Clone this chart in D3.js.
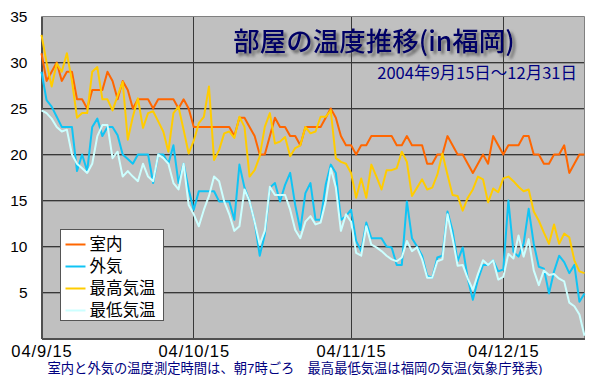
<!DOCTYPE html>
<html>
<head>
<meta charset="utf-8">
<script src="https://cdn.jsdelivr.net/npm/d3@7"></script>
<style>
  body { margin: 0; background: #fff; }
  svg { display: block; }
  text { font-family: "Liberation Sans", Arial, sans-serif; }
  .jp { font-family: "Noto Sans CJK JP", sans-serif; }
  .note { font-family: "Liberation Sans", "Noto Sans CJK JP", sans-serif; }
</style>
</head>
<body>
<svg></svg>
<script>
(function (d3) {
  'use strict';

  // 2004/9/15 - 12/31, one value per day
  const startDay = new Date(2004, 8, 15);

  const indoor = [
    31, 28, 29, 30, 28, 29, 29, 26, 26, 25, 27, 27, 27, 29, 28, 26, 28, 27, 25, 26,
    26, 26, 25, 26, 26, 26, 26, 25, 26, 25, 23, 23, 23, 23, 23, 23, 23, 23, 22, 24,
    24, 23, 22, 20, 20, 22, 24, 23, 23, 22, 22, 21, 23, 23, 23, 23, 24, 25, 24, 22,
    21, 21, 20, 21, 21, 22, 22, 22, 22, 22, 21, 21, 22, 21, 21, 21, 19, 19, 20, 20,
    22, 21, 20, 20, 19, 18, 19, 20, 19, 22, 21, 20, 21, 21, 21, 22, 22, 20, 20, 19,
    19, 20, 20, 21, 18, 19, 20, 20
  ];

  const outdoor = [
    29, 25.9, 25.2, 24.1, 23, 23, 23, 18.2, 20, 18.2, 23, 23.9, 22, 23, 23, 22.1, 20, 19.5, 19, 20,
    20, 20, 16.9, 20, 20, 19, 21, 16.9, 19, 16.2, 14, 16, 16, 16, 16, 14.9, 14.9, 14.9, 12.9, 18.9,
    16.4, 14.9, 12.7, 9, 11.3, 16.4, 16.9, 14.9, 16.7, 18, 14.5, 11.8, 15.8, 16.9, 12.9, 12.9, 16.7, 18.9, 18, 12.9,
    13.3, 14, 10.6, 9.5, 12.6, 10.9, 10.9, 10.9, 10, 9.9, 8, 8, 14.9, 10.9, 10, 9, 6.8, 6.6, 8.8, 9,
    13.8, 11.7, 8.4, 9.9, 6.5, 4.2, 6.4, 8, 8, 8.5, 7.3, 7.5, 15, 9.4, 8.9, 10.3, 14.1, 10.3, 7.8, 7.6,
    4.9, 7.3, 9, 8.3, 7.1, 8, 4, 4.9
  ];

  const maxTemp = [
    33, 30, 27.4, 29.9, 29, 31, 28, 24, 24.5, 24.5, 29, 29.5, 26, 26, 24.8, 26.4, 27.9, 21.6, 24.1, 26.1,
    22.9, 24.5, 24.7, 23.6, 22.5, 20.3, 24.5, 25.2, 22.7, 20.1, 21.5, 23.4, 24.1, 27.4, 19.4, 20.5, 22.3, 22.5, 21.8, 24.1,
    23, 17.6, 18.3, 19.8, 23, 24.5, 21.2, 21.4, 21.9, 19.8, 20.7, 21, 23, 22.3, 22.5, 24.1, 24.1, 24.8, 19.6, 19.2,
    19, 18, 15.3, 17.4, 15.3, 18.9, 17.6, 16.2, 18.3, 18.3, 18.5, 20.3, 19.2, 15.5, 16.4, 17.3, 16.2, 16.4, 17.8, 20.1,
    17.8, 15.6, 15.5, 13.9, 15.3, 16.2, 17.6, 17.3, 14.8, 16.3, 15.9, 17.4, 17.6, 17.1, 16.5, 16, 16.2, 13.8, 12.8, 11.5,
    10.3, 12.4, 10.3, 11.4, 11, 8.5, 7.3, 7.1
  ];

  const minTemp = [
    24.8, 24.5, 23.9, 23, 22.5, 22.7, 20, 19, 18.5, 18, 19, 22, 23.2, 23.2, 19.6, 20.3, 17.6, 18.2, 17.6, 17.1,
    19, 17.6, 17.1, 20, 19.6, 19, 16.9, 16.2, 19, 14.5, 13.5, 12.2, 14, 15.5, 17.6, 17.1, 14.9, 13.5, 11.7, 12.2,
    16.2, 14.9, 12.7, 10.2, 11.7, 16.5, 15.6, 15.6, 15.6, 14, 11.8, 10.9, 12.7, 13.3, 12.4, 12.6, 14.9, 18.5, 16.4, 11.7,
    13.5, 12.7, 9.3, 9, 12.2, 10.2, 9.9, 9.5, 9, 8.6, 8.4, 8.8, 10.6, 9.5, 9.9, 8.6, 6.6, 6.6, 8.4, 8.6,
    13.5, 10.9, 7.9, 8, 6.5, 5.3, 7, 8.5, 8, 8.5, 6.4, 6.7, 9.2, 8.7, 11.2, 8.9, 10.8, 7.4, 5.8, 7.4,
    6.9, 7, 6.5, 6.2, 3.9, 3.5, 2.6, 0.3
  ];

  const seriesNames = ['室内', '外気', '最高気温', '最低気温'];
  const seriesColors = ['#ff6600', '#10c4f4', '#ffcc00', '#ccffff'];
  const seriesValues = [indoor, outdoor, maxTemp, minTemp];

  const xTickDates = [new Date(2004, 8, 15), new Date(2004, 9, 15), new Date(2004, 10, 15), new Date(2004, 11, 15)];
  const yTicks = [5, 10, 15, 20, 25, 30, 35];

  const titleText = '部屋の温度推移(in福岡)';
  const subtitleText = '2004年9月15日～12月31日';
  const noteText = '室内と外気の温度測定時間は、朝7時ごろ　最高最低気温は福岡の気温(気象庁発表)';

  const width = 600;
  const height = 375;
  const margin = { top: 16, right: 16, bottom: 37, left: 41 };
  const innerWidth = width - margin.left - margin.right;
  const innerHeight = height - margin.top - margin.bottom;

  const svg = d3.select('svg')
      .attr('width', width)
      .attr('height', height);

  const defs = svg.append('defs');
  defs.append('filter')
      .attr('id', 'shadow')
      .attr('x', '-10%').attr('y', '-30%')
      .attr('width', '130%').attr('height', '170%')
    .append('feDropShadow')
      .attr('dx', 3).attr('dy', 3)
      .attr('stdDeviation', 1.6)
      .attr('flood-color', '#555')
      .attr('flood-opacity', 0.85);

  const days = indoor.map((v, i) => d3.timeDay.offset(startDay, i));

  const x = d3.scaleTime()
      .domain([days[0], days[days.length - 1]])
      .range([0, innerWidth]);

  const y = d3.scaleLinear()
      .domain([0, 35])
      .range([innerHeight, 0]);

  const g = svg.append('g')
      .attr('transform', `translate(${margin.left + 0.5},${margin.top + 0.5})`);

  g.append('rect')
      .attr('width', innerWidth)
      .attr('height', innerHeight)
      .attr('fill', '#c0c0c0');

  // grid
  const gridTicks = yTicks.filter(t => t < 35);
  g.selectAll('.hgrid2').data(gridTicks)
    .enter().append('line')
      .attr('class', 'hgrid2')
      .attr('x1', 0).attr('x2', innerWidth)
      .attr('y1', d => Math.round(y(d)) + 1).attr('y2', d => Math.round(y(d)) + 1)
      .attr('stroke', '#909090');
  g.selectAll('.hgrid').data(gridTicks)
    .enter().append('line')
      .attr('class', 'hgrid')
      .attr('x1', 0).attr('x2', innerWidth)
      .attr('y1', d => Math.round(y(d))).attr('y2', d => Math.round(y(d)))
      .attr('stroke', '#383838');

  g.selectAll('.vgrid').data(xTickDates.slice(1))
    .enter().append('line')
      .attr('class', 'vgrid')
      .attr('x1', d => Math.round(x(d))).attr('x2', d => Math.round(x(d)))
      .attr('y1', 0).attr('y2', innerHeight)
      .attr('stroke', '#383838');

  g.append('path')
      .attr('d', `M0,${innerHeight}V0H${innerWidth}V${innerHeight}`)
      .attr('fill', 'none')
      .attr('stroke', '#808080');

  // axes
  const xAxis = d3.axisBottom(x)
      .tickValues(xTickDates)
      .tickFormat(d3.timeFormat('%y/%-m/%d'))
      .tickSize(0)
      .tickPadding(7);

  const yAxis = d3.axisLeft(y)
      .tickValues(yTicks)
      .tickSize(0)
      .tickPadding(14);

  const xAxisG = g.append('g')
      .attr('transform', `translate(0,${innerHeight})`)
      .call(xAxis);
  xAxisG.selectAll('text')
      .attr('font-size', 16.5)
      .attr('letter-spacing', 0.9)
      .attr('fill', '#000');

  const yAxisG = g.append('g').call(yAxis);
  yAxisG.selectAll('text')
      .attr('font-size', 15.5)
      .attr('fill', '#000');

  xAxisG.select('.domain').attr('stroke', '#505050').attr('stroke-width', 2);
  yAxisG.select('.domain').attr('stroke', '#505050').attr('stroke-width', 2);

  // lines
  const line = d3.line()
      .x((d, i) => x(days[i]))
      .y(d => y(d));

  g.selectAll('.series').data(seriesValues)
    .enter().append('path')
      .attr('class', 'series')
      .attr('d', line)
      .attr('fill', 'none')
      .attr('stroke', (d, i) => seriesColors[i])
      .attr('stroke-width', 2)
      .attr('stroke-linejoin', 'round');

  // legend
  const legend = svg.append('g')
      .attr('transform', 'translate(60.5,229.5)');
  legend.append('rect')
      .attr('width', 103)
      .attr('height', 91)
      .attr('fill', '#fff')
      .attr('stroke', '#555');

  const legendItem = legend.selectAll('.item').data(seriesNames)
    .enter().append('g')
      .attr('class', 'item')
      .attr('transform', (d, i) => `translate(0,${15 + i * 22})`);
  legendItem.append('line')
      .attr('x1', 5).attr('x2', 25)
      .attr('stroke', (d, i) => seriesColors[i])
      .attr('stroke-width', 2);
  legendItem.append('text')
      .attr('class', 'jp')
      .attr('x', 29)
      .attr('dy', '0.36em')
      .attr('font-size', 16.5)
      .attr('fill', '#000')
      .text(d => d);

  // titles
  svg.append('text')
      .attr('class', 'jp')
      .attr('x', 374)
      .attr('y', 51)
      .attr('text-anchor', 'middle')
      .attr('font-size', 26.5)
      .attr('font-weight', 500)
      .attr('fill', '#000066')
      .attr('filter', 'url(#shadow)')
      .text(titleText);

  svg.append('text')
      .attr('class', 'jp')
      .attr('x', 577)
      .attr('y', 79)
      .attr('text-anchor', 'end')
      .attr('font-size', 16.5)
      .attr('fill', '#000080')
      .text(subtitleText);

  svg.append('text')
      .attr('class', 'note')
      .attr('x', 295)
      .attr('y', 372.5)
      .attr('text-anchor', 'middle')
      .attr('font-size', 13.3)
      .attr('fill', '#000080')
      .text(noteText);

}(d3));
</script>
</body>
</html>
